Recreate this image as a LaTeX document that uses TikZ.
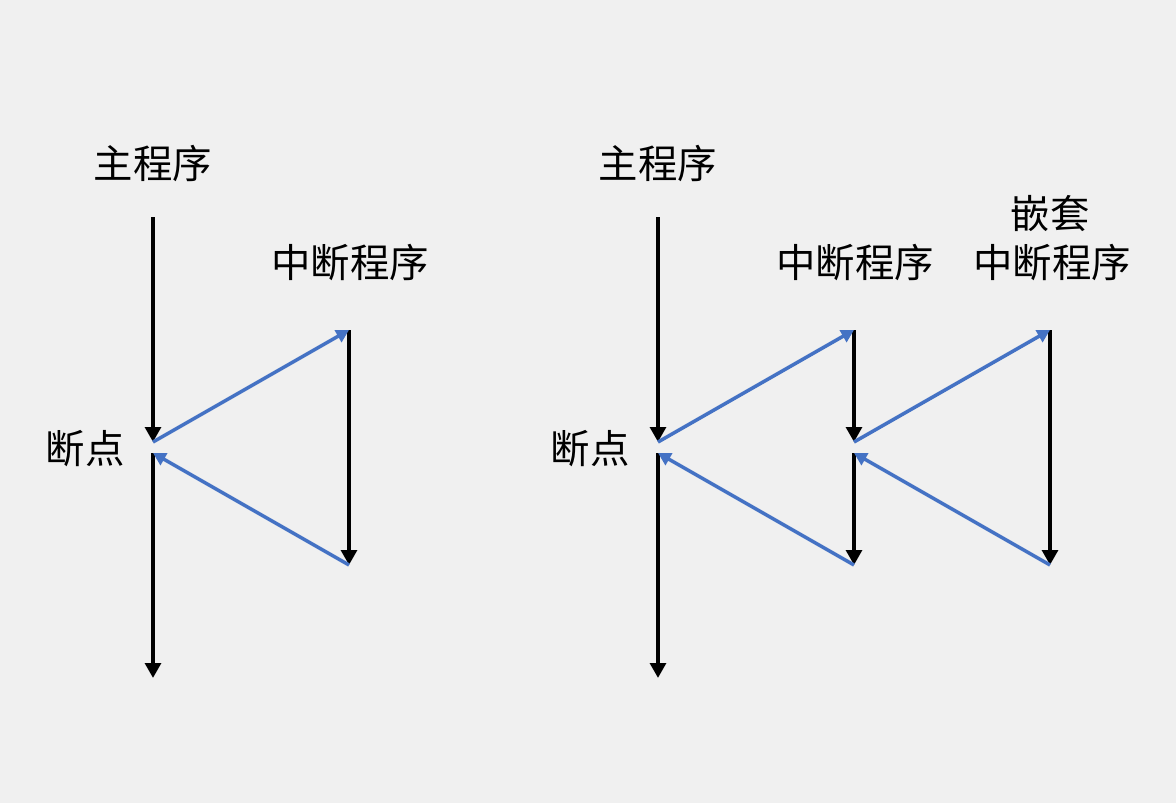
\documentclass[tikz,border=0pt]{standalone}
\usepackage{fontspec}
\newfontfamily\cjk{Noto Sans CJK SC}
\usetikzlibrary{arrows.meta}

\begin{document}
\begin{tikzpicture}[
    x=0.01cm, y=-0.01cm,
    every node/.style={font=\cjk\fontsize{11.2}{13}\selectfont, inner sep=0pt},
    flow/.style={line width=1.15pt, -{Triangle[length=4.2pt, width=4.4pt]}},
    jump/.style={line width=1pt, draw=jumpblue, -{Triangle[length=3.6pt, width=3.8pt]}},
]

\definecolor{bgcolor}{HTML}{F0F0F0}
\definecolor{jumpblue}{HTML}{4472C4}

\fill[bgcolor] (0,0) rectangle (1176,803);
\useasboundingbox (0,0) rectangle (1176,803);

% ---------------------------------------------------------------- single interrupt
\node (mainA)  at (153,163) {主程序};
\node (isrA)   at (350,263) {中断程序};
\node (bpA)    at (85,449)  {断点};

\coordinate (mA1) at (153,217);
\coordinate (mA2) at (153,442);
\coordinate (mA3) at (153,453);
\coordinate (mA4) at (153,678);
\coordinate (iA1) at (349,330);
\coordinate (iA2) at (349,565);

\draw[flow] (mA1) -- (mA2);
\draw[flow] (mA3) -- (mA4);
\draw[flow] (iA1) -- (iA2);
\draw[jump] (mA2) -- (iA1);
\draw[jump] (iA2) -- (mA3);

% ---------------------------------------------------------------- nested interrupt
\node (mainB)  at (658,163)  {主程序};
\node (isrB)   at (855,263)  {中断程序};
\node (bpB)    at (590,449)  {断点};
\node (nestB)  at (1052,263) {中断程序};
\node (nestB2) at (1050,214) {嵌套};

\coordinate (mB1) at (658,217);
\coordinate (mB2) at (658,442);
\coordinate (mB3) at (658,453);
\coordinate (mB4) at (658,678);
\coordinate (iB1) at (854,330);
\coordinate (iB2) at (854,442);
\coordinate (iB3) at (854,453);
\coordinate (iB4) at (854,565);
\coordinate (nB1) at (1050,330);
\coordinate (nB2) at (1050,565);

\draw[flow] (mB1) -- (mB2);
\draw[flow] (mB3) -- (mB4);
\draw[flow] (iB1) -- (iB2);
\draw[flow] (iB3) -- (iB4);
\draw[flow] (nB1) -- (nB2);
\draw[jump] (mB2) -- (iB1);
\draw[jump] (iB4) -- (mB3);
\draw[jump] (iB2) -- (nB1);
\draw[jump] (nB2) -- (iB3);

\end{tikzpicture}
\end{document}
